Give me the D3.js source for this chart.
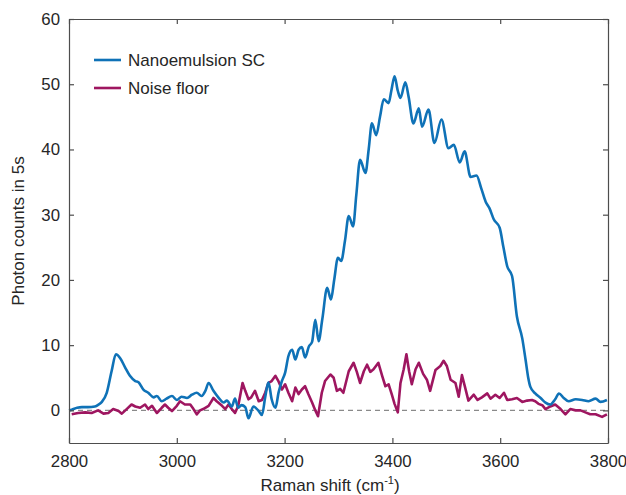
<!DOCTYPE html>
<html>
<head>
<meta charset="utf-8">
<script src="https://cdn.jsdelivr.net/npm/d3@7"></script>
<style>
    body { margin: 0; background: #fff; }
    .chart text { font-family: Arial, 'Liberation Sans', sans-serif; fill: #262626; }
</style>
</head>
<body>
<div class="chart"></div>
<script>
// Nanoemulsion SC spectrum (Raman shift, counts)
const scShift = [2800, 2805, 2815, 2824, 2835, 2848, 2855, 2861, 2870, 2879, 2887, 2895, 2904, 2913, 2923, 2929, 2938, 2947, 2957, 2963,
    2972, 2981, 2991, 3000, 3009, 3019, 3028, 3037, 3046, 3053, 3059, 3068, 3077, 3087, 3093, 3102, 3108, 3114, 3120, 3127,
    3133, 3142, 3152, 3158, 3164, 3170, 3176, 3183, 3189, 3195, 3201, 3207, 3214, 3220, 3226, 3232, 3238, 3245, 3251, 3257,
    3263, 3270, 3279, 3286, 3292, 3299, 3305, 3312, 3319, 3327, 3333, 3340, 3350, 3356, 3362, 3370, 3377, 3384, 3393, 3398,
    3404, 3410, 3415, 3424, 3430, 3439, 3449, 3455, 3467, 3478, 3491, 3504, 3514, 3525, 3534, 3545, 3556, 3565, 3573, 3580,
    3588, 3599, 3606, 3613, 3622, 3631, 3641, 3647, 3652, 3656, 3665, 3675, 3684, 3693, 3702, 3709, 3718, 3727, 3740, 3752,
    3764, 3777, 3786, 3798];
const scCounts = [0.0, 0.1, 0.4, 0.5, 0.5, 0.6, 0.9, 1.3, 2.7, 6.0, 8.6, 8.0, 6.6, 5.3, 4.5, 4.3, 3.2, 2.7, 2.0, 2.2,
    1.4, 1.8, 2.2, 1.6, 2.1, 1.9, 2.4, 2.7, 2.2, 3.0, 4.2, 3.0, 2.0, 1.2, 1.5, 0.6, 1.8, 0.4, 0.8, 0.5,
    -1.2, 0.6, -0.1, -0.7, 2.0, 4.3, 1.7, 0.4, 2.8, 4.5, 5.8, 8.3, 9.3, 7.8, 9.3, 9.7, 8.1, 9.8, 10.5, 13.9,
    10.6, 14.0, 18.8, 17.0, 20.0, 23.4, 22.9, 26.0, 29.8, 28.2, 33.0, 38.4, 36.4, 40.0, 44.0, 42.2, 45.0, 47.7, 47.1, 49.0,
    51.2, 49.0, 47.9, 50.3, 48.1, 44.0, 46.3, 43.5, 46.1, 41.0, 44.6, 40.2, 40.7, 38.0, 39.7, 35.8, 36.0, 34.0, 32.0, 31.0,
    29.3, 28.0, 25.0, 22.1, 20.6, 14.4, 11.0, 7.8, 5.0, 3.6, 2.6, 1.9, 1.2, 0.9, 1.7, 2.6, 1.9, 1.4, 1.7, 1.6,
    1.4, 1.8, 1.3, 1.6];

// Noise floor
const noiseShift = [2805, 2817, 2830, 2842, 2854, 2864, 2873, 2882, 2892, 2898, 2907, 2916, 2923, 2932, 2941, 2947, 2954, 2963, 2972, 2978,
    2984, 2991, 3000, 3006, 3015, 3025, 3031, 3037, 3043, 3049, 3059, 3068, 3074, 3084, 3090, 3096, 3102, 3108, 3114, 3122,
    3127, 3133, 3138, 3145, 3152, 3158, 3164, 3170, 3176, 3183, 3189, 3195, 3201, 3207, 3214, 3220, 3226, 3232, 3238, 3244,
    3251, 3257, 3262, 3269, 3275, 3285, 3291, 3297, 3303, 3309, 3319, 3328, 3334, 3340, 3347, 3353, 3359, 3365, 3374, 3381,
    3387, 3393, 3399, 3404, 3410, 3415, 3421, 3426, 3431, 3436, 3443, 3449, 3457, 3464, 3470, 3480, 3489, 3495, 3501, 3508,
    3517, 3523, 3529, 3535, 3541, 3551, 3558, 3566, 3576, 3582, 3591, 3599, 3607, 3613, 3622, 3631, 3641, 3650, 3659, 3665,
    3671, 3678, 3684, 3693, 3702, 3712, 3721, 3730, 3740, 3749, 3758, 3767, 3777, 3789, 3798];
const noiseCounts = [-0.6, -0.4, -0.3, -0.4, 0.0, -0.5, -0.4, 0.2, -0.1, -0.5, 0.2, 0.9, 0.6, 0.4, 0.9, 0.2, 0.7, -0.4, 0.4, 0.9,
    0.4, -0.1, 0.7, 1.4, 0.9, 0.9, 0.2, -0.6, 0.0, 0.2, 0.7, 1.9, 1.4, 0.7, 0.2, 0.9, 0.2, -0.4, 0.7, 4.2,
    3.0, 1.7, 2.0, 3.0, 1.4, 1.6, 2.7, 4.2, 4.5, 5.3, 4.4, 3.2, 4.0, 2.7, 1.4, 3.5, 2.5, 3.2, 3.7, 2.5,
    1.2, 0.0, -0.9, 2.7, 4.5, 5.5, 5.0, 3.0, 3.3, 2.7, 6.0, 7.3, 5.9, 4.2, 6.0, 7.0, 5.9, 6.3, 7.3, 5.3,
    3.7, 4.0, 2.4, 1.0, -0.3, 4.2, 6.3, 8.6, 6.0, 4.0, 6.3, 7.3, 5.6, 4.7, 3.0, 6.2, 6.8, 7.6, 6.8, 4.7,
    4.2, 2.1, 5.4, 3.5, 1.5, 2.4, 1.6, 2.0, 2.6, 1.8, 2.4, 1.9, 2.7, 1.6, 1.7, 1.9, 1.3, 1.5, 1.6, 1.4,
    1.0, 0.8, 0.2, 0.6, 0.9, 0.2, -0.6, 0.2, 0.0, 0.0, -0.3, -0.6, -0.6, -1.0, -0.6];

const xTicks = [2800, 3000, 3200, 3400, 3600, 3800];
const yTicks = [0, 10, 20, 30, 40, 50, 60];
const seriesNames = ['Nanoemulsion SC', 'Noise floor'];
const seriesColors = ['#0f72b7', '#9e1660'];

function drawChart() {
    const scData = scShift.map((d, i) => ({ x: d, y: scCounts[i] }));
    const noiseData = noiseShift.map((d, i) => ({ x: d, y: noiseCounts[i] }));

    // Dimensions
    const dimensions = {
        width: 626,
        height: 495,
        left: 69,
        top: 19,
        right: 18,
        bottom: 52
    };
    dimensions.containerWidth = dimensions.width - dimensions.left - dimensions.right;
    dimensions.containerHeight = dimensions.height - dimensions.top - dimensions.bottom;

    const svg = d3.select('.chart')
        .append('svg')
        .attr('width', dimensions.width)
        .attr('height', dimensions.height);

    const container = svg.append('g')
        .attr('transform', `translate(${dimensions.left}, ${dimensions.top})`);

    // Scales
    const xScale = d3.scaleLinear()
        .domain([2800, 3800])
        .range([0, dimensions.containerWidth]);

    const yScale = d3.scaleLinear()
        .domain([-5, 60])
        .range([dimensions.containerHeight, 0]);

    // Zero line
    container.append('line')
        .attr('x1', xScale(2800))
        .attr('x2', xScale(3800))
        .attr('y1', yScale(0))
        .attr('y2', yScale(0))
        .attr('stroke', '#8a8a8a')
        .attr('stroke-width', 1.2)
        .attr('stroke-dasharray', '5,4');

    // Lines
    const scLine = d3.line()
        .x(d => xScale(d.x))
        .y(d => yScale(d.y))
        .curve(d3.curveMonotoneX);

    const noiseLine = d3.line()
        .x(d => xScale(d.x))
        .y(d => yScale(d.y));

    container.append('path')
        .datum(noiseData)
        .attr('d', noiseLine)
        .attr('fill', 'none')
        .attr('stroke', seriesColors[1])
        .attr('stroke-width', 2.6)
        .attr('stroke-linejoin', 'round');

    container.append('path')
        .datum(scData)
        .attr('d', scLine)
        .attr('fill', 'none')
        .attr('stroke', seriesColors[0])
        .attr('stroke-width', 2.6)
        .attr('stroke-linejoin', 'round');

    // Axes (box with inward ticks)
    const styleAxis = g => {
        g.selectAll('path.domain').attr('stroke', '#4d4d4d').attr('stroke-width', 1.2);
        g.selectAll('.tick line').attr('stroke', '#4d4d4d').attr('stroke-width', 1.2);
        g.selectAll('.tick text').attr('font-size', 16.8).attr('fill', '#262626');
    };

    container.append('g')
        .attr('transform', `translate(0, ${dimensions.containerHeight})`)
        .call(d3.axisBottom(xScale).tickValues(xTicks).tickFormat(d3.format('d'))
            .tickSizeInner(-5).tickSizeOuter(0).tickPadding(12))
        .call(styleAxis);

    container.append('g')
        .call(d3.axisTop(xScale).tickValues(xTicks).tickSizeInner(-5).tickSizeOuter(0).tickFormat(''))
        .call(styleAxis);

    container.append('g')
        .call(d3.axisLeft(yScale).tickValues(yTicks).tickFormat(d3.format('d'))
            .tickSizeInner(-5).tickSizeOuter(0).tickPadding(9))
        .call(styleAxis);

    container.append('g')
        .attr('transform', `translate(${dimensions.containerWidth}, 0)`)
        .call(d3.axisRight(yScale).tickValues(yTicks).tickSizeInner(-5).tickSizeOuter(0).tickFormat(''))
        .call(styleAxis);

    // Axis labels
    const xLabel = svg.append('text')
        .attr('x', 330)
        .attr('y', 491)
        .attr('text-anchor', 'middle')
        .attr('font-size', 17);
    xLabel.append('tspan').text('Raman shift (cm');
    xLabel.append('tspan').text('-1').attr('font-size', 11).attr('dy', -7);
    xLabel.append('tspan').text(')').attr('dy', 7);

    svg.append('text')
        .attr('transform', `translate(24, ${dimensions.top + dimensions.containerHeight / 2}) rotate(-90)`)
        .attr('text-anchor', 'middle')
        .attr('font-size', 17)
        .text('Photon counts in 5s');

    // Legend
    const legendGroup = svg.append('g')
        .attr('transform', 'translate(94, 60)');

    legendGroup.selectAll('line')
        .data(seriesNames)
        .join('line')
        .attr('x1', 0)
        .attr('x2', 27)
        .attr('y1', (d, i) => i * 28)
        .attr('y2', (d, i) => i * 28)
        .attr('stroke', (d, i) => seriesColors[i])
        .attr('stroke-width', 2.6);

    legendGroup.selectAll('text')
        .data(seriesNames)
        .join('text')
        .text(d => d)
        .attr('x', 34)
        .attr('y', (d, i) => i * 28 + 6)
        .attr('font-size', 17);
}

drawChart();
</script>
</body>
</html>
